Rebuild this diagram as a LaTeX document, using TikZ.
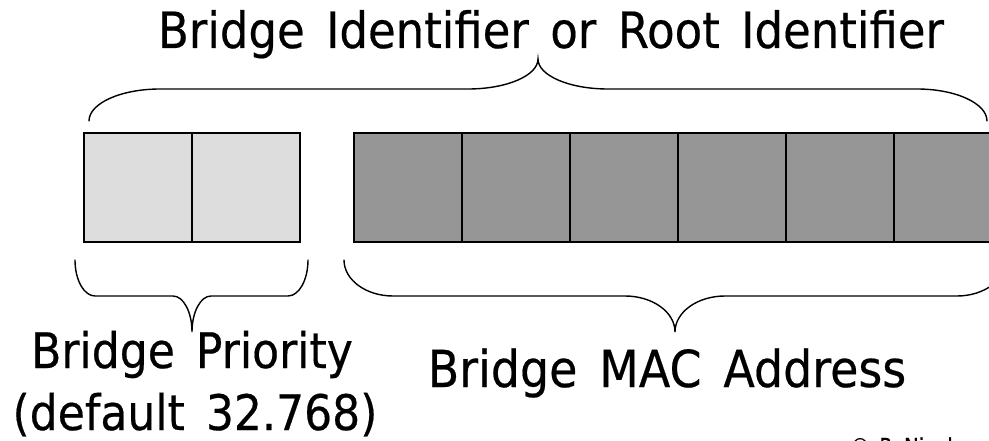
\documentclass[tikz,border=0pt]{standalone}
\usepackage{fontspec}
\setmainfont{DejaVu Sans}[FakeStretch=0.9,WordSpace=1.5,FakeBold=0.4]
\definecolor{prioFill}{HTML}{DDDDDD}
\definecolor{macFill}{HTML}{969696}
\begin{document}
\begin{tikzpicture}[x=1pt,y=1pt,
  cell/.style={draw=black,line width=1.6pt,minimum width=108pt,minimum height=109pt,inner sep=0pt,outer sep=0pt},
  priocell/.style={cell,fill=prioFill},
  maccell/.style={cell,fill=macFill},
  brace/.style={draw=black,line width=1.4pt,line cap=round},
  titletext/.style={inner sep=0pt,anchor=base,font=\fontsize{50}{60}\selectfont},
  priotext/.style={inner sep=0pt,anchor=base,font=\fontsize{49}{59}\selectfont},
  mactext/.style={inner sep=0pt,anchor=base,font=\fontsize{51}{61}\selectfont},
  smalltext/.style={inner sep=0pt,anchor=base west,font=\fontsize{22}{26}\selectfont}]
\useasboundingbox (0,0) rectangle (989,440);
\clip (0,0) rectangle (989,440);
% cells
\node[priocell] (p1) at (138,252.5) {};
\node[priocell] (p2) at (246,252.5) {};
\node[maccell] (m1) at (408,252.5) {};
\node[maccell] (m2) at (516,252.5) {};
\node[maccell] (m3) at (624,252.5) {};
\node[maccell] (m4) at (732,252.5) {};
\node[maccell] (m5) at (840,252.5) {};
\node[maccell] (m6) at (948,252.5) {};
% top brace
\draw[brace] (89,319) arc[start angle=180,end angle=90,x radius=71,y radius=32]
  -- (468,351) arc[start angle=270,end angle=360,x radius=70,y radius=30]
  arc[start angle=180,end angle=270,x radius=70,y radius=30]
  -- (917,351) arc[start angle=90,end angle=0,x radius=70,y radius=32];
% bottom-left brace
\draw[brace] (75,180) arc[start angle=180,end angle=270,x radius=20,y radius=36]
  -- (173,144) arc[start angle=90,end angle=0,x radius=19,y radius=36]
  arc[start angle=180,end angle=90,x radius=19,y radius=36]
  -- (288,144) arc[start angle=270,end angle=360,x radius=20,y radius=36];
% bottom-right brace
\draw[brace] (344,180) arc[start angle=180,end angle=270,x radius=49,y radius=36]
  -- (625,144) arc[start angle=90,end angle=0,x radius=50,y radius=36]
  arc[start angle=180,end angle=90,x radius=50,y radius=36]
  -- (957,144) arc[start angle=270,end angle=360,x radius=49,y radius=36];
% texts
\node[titletext] (title) at (551,392) {Bridge Identifier or Root Identifier};
\node[priotext] (prio1) at (192,72) {Bridge Priority};
\node[priotext] (prio2) at (195,10) {(default 32.768)};
\node[mactext] (mac) at (667,53) {Bridge MAC Address};
\node[smalltext] (copy) at (850,-14) {© P. Nicol};
\end{tikzpicture}
\end{document}
